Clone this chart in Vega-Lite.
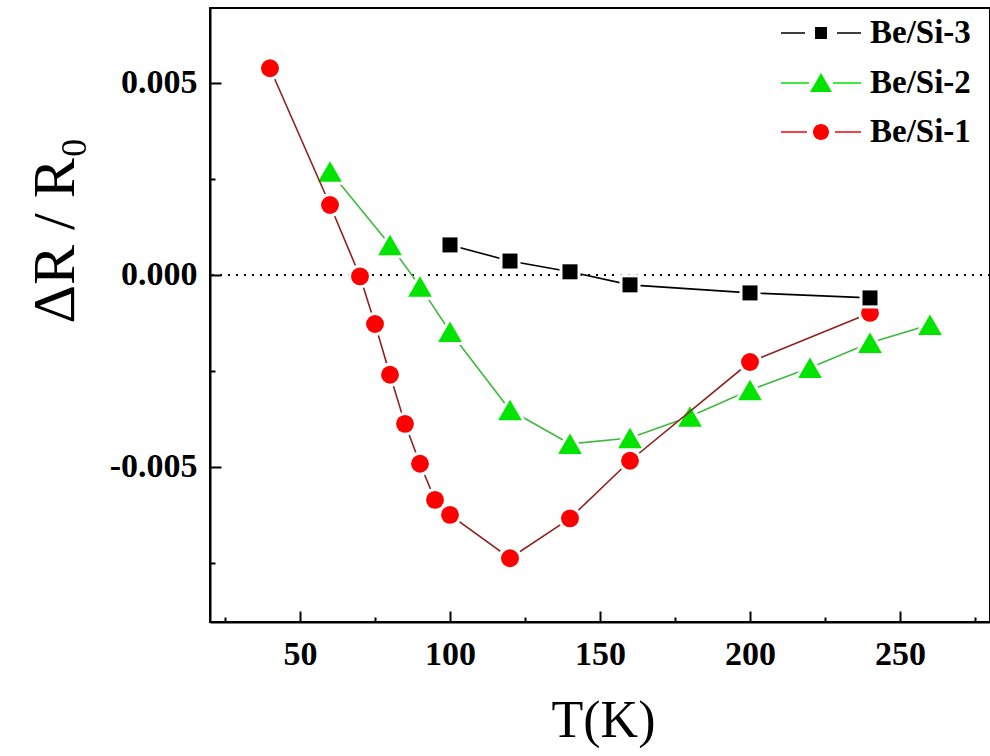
{
  "$schema": "https://vega.github.io/schema/vega-lite/v6.json",
  "autosize": {"type": "none"},
  "padding": {"left": 210, "top": 8, "right": 0, "bottom": 134},
  "width": 780,
  "height": 614,
  "background": "white",
  "view": {"stroke": "black", "strokeWidth": 2},
  "config": {
    "axis": {
      "labelFont": "Liberation Serif",
      "labelFontWeight": "bold",
      "labelFontSize": 34,
      "labelColor": "black",
      "titleFont": "Liberation Serif",
      "titleFontWeight": "normal",
      "titleColor": "black",
      "domainColor": "black",
      "domainWidth": 2,
      "tickColor": "black",
      "tickWidth": 2,
      "grid": false
    },
    "legend": {
      "labelFont": "Liberation Serif",
      "labelFontWeight": "bold",
      "labelFontSize": 33,
      "labelColor": "black",
      "title": null,
      "orient": "none",
      "padding": 0,
      "symbolSize": 1600,
      "symbolStrokeWidth": 0,
      "symbolOpacity": 1,
      "labelOffset": 29
    }
  },
  "data": {
    "values": [
      {"series": "Be/Si-1", "T": 40, "dR": 0.00538},
      {"series": "Be/Si-1", "T": 60, "dR": 0.00182},
      {"series": "Be/Si-1", "T": 70, "dR": -0.00004},
      {"series": "Be/Si-1", "T": 75, "dR": -0.00128},
      {"series": "Be/Si-1", "T": 80, "dR": -0.0026},
      {"series": "Be/Si-1", "T": 85, "dR": -0.00388},
      {"series": "Be/Si-1", "T": 90, "dR": -0.00492},
      {"series": "Be/Si-1", "T": 95, "dR": -0.00586},
      {"series": "Be/Si-1", "T": 100, "dR": -0.00625},
      {"series": "Be/Si-1", "T": 120, "dR": -0.00738},
      {"series": "Be/Si-1", "T": 140, "dR": -0.00634},
      {"series": "Be/Si-1", "T": 160, "dR": -0.00484},
      {"series": "Be/Si-1", "T": 200, "dR": -0.00227},
      {"series": "Be/Si-1", "T": 240, "dR": -0.00099},
      {"series": "Be/Si-2", "T": 60, "dR": 0.00269},
      {"series": "Be/Si-2", "T": 80, "dR": 0.00078},
      {"series": "Be/Si-2", "T": 90, "dR": -0.0003},
      {"series": "Be/Si-2", "T": 100, "dR": -0.00148},
      {"series": "Be/Si-2", "T": 120, "dR": -0.00352},
      {"series": "Be/Si-2", "T": 140, "dR": -0.0044},
      {"series": "Be/Si-2", "T": 160, "dR": -0.00425},
      {"series": "Be/Si-2", "T": 180, "dR": -0.00369},
      {"series": "Be/Si-2", "T": 200, "dR": -0.003},
      {"series": "Be/Si-2", "T": 220, "dR": -0.00242},
      {"series": "Be/Si-2", "T": 240, "dR": -0.00177},
      {"series": "Be/Si-2", "T": 260, "dR": -0.0013},
      {"series": "Be/Si-3", "T": 100, "dR": 0.00078},
      {"series": "Be/Si-3", "T": 120, "dR": 0.00036},
      {"series": "Be/Si-3", "T": 140, "dR": 0.00008},
      {"series": "Be/Si-3", "T": 160, "dR": -0.00026},
      {"series": "Be/Si-3", "T": 200, "dR": -0.00047},
      {"series": "Be/Si-3", "T": 240, "dR": -0.0006}
    ]
  },
  "encoding": {
    "x": {
      "field": "T", "type": "quantitative",
      "scale": {"domain": [20, 280], "nice": false, "zero": false},
      "axis": {
        "title": "T(K)",
        "titleFontSize": 52,
        "titleX": 393,
        "titleY": 98,
        "titleBaseline": "middle",
        "titleAlign": "center",
        "values": [25, 50, 75, 100, 125, 150, 175, 200, 225, 250, 275],
        "labelExpr": "datum.value % 50 === 0 ? datum.label : ''",
        "tickSize": {"condition": {"test": "datum.value % 50 === 0", "value": -11}, "value": -5},
        "labelPadding": 26,
        "labelFlush": false,
        "labelOverlap": false
      }
    },
    "y": {
      "field": "dR", "type": "quantitative",
      "scale": {"domain": [-0.00904, 0.00695], "nice": false, "zero": false},
      "axis": {
        "title": "ΔR / R₀",
        "titleFontSize": 60,
        "titleX": -155,
        "titleY": 222,
        "titleAngle": -90,
        "titleBaseline": "middle",
        "titleAlign": "center",
        "values": [-0.0075, -0.005, -0.0025, 0, 0.0025, 0.005],
        "labelExpr": "abs(round(datum.value * 400) % 2) == 0 ? replace(format(datum.value, '.3f'), '\u2212', '-') : ''",
        "tickSize": {"condition": {"test": "abs(round(datum.value * 400) % 2) == 0", "value": -11}, "value": -5},
        "labelPadding": 24,
        "labelFlush": false,
        "labelOverlap": false
      }
    }
  },
  "resolve": {"scale": {"fill": "independent"}, "legend": {"fill": "independent"}},
  "layer": [
    {
      "mark": {"type": "rule", "strokeDash": [2, 6], "strokeWidth": 1.5, "color": "black"},
      "encoding": {
        "x": null,
        "y": {"datum": 0, "type": "quantitative"}
      }
    },
    {
      "transform": [{"filter": "datum.series === 'Be/Si-2'"}],
      "layer": [
        {"mark": {"type": "line", "strokeWidth": 1.6, "color": "#3fb83f"}, "encoding": {}},
        {"mark": {"type": "point", "shape": "triangle-up", "size": 560, "filled": true, "fill": "white", "stroke": "white", "strokeWidth": 6, "opacity": 1}, "encoding": {}},
        {
          "mark": {"type": "point", "shape": "triangle-up", "size": 560, "filled": true, "strokeWidth": 0, "opacity": 1},
          "encoding": {
            "fill": {
              "field": "series", "type": "nominal",
              "scale": {"domain": ["Be/Si-2"], "range": ["#00e400"]},
              "legend": {
                "legendX": 591, "legendY": 55,
                "symbolType": "M-2,-0.04H-0.6V0.04H-2Z M0.6,-0.04H2V0.04H0.6Z M0,-0.5L0.55,0.45L-0.55,0.45Z"
              }
            }
          }
        }
      ]
    },
    {
      "transform": [{"filter": "datum.series === 'Be/Si-1'"}],
      "layer": [
        {"mark": {"type": "line", "strokeWidth": 1.6, "color": "#8e2222"}, "encoding": {}},
        {"mark": {"type": "point", "shape": "circle", "size": 320, "filled": true, "fill": "white", "stroke": "white", "strokeWidth": 6, "opacity": 1}, "encoding": {}},
        {
          "mark": {"type": "point", "shape": "circle", "size": 320, "filled": true, "strokeWidth": 0, "opacity": 1},
          "encoding": {
            "fill": {
              "field": "series", "type": "nominal",
              "scale": {"domain": ["Be/Si-1"], "range": ["#ff0000"]},
              "legend": {
                "legendX": 591, "legendY": 104,
                "symbolType": "M-2,-0.04H-0.7V0.04H-2Z M0.7,-0.04H2V0.04H0.7Z M0.4,0A0.4,0.4,0,1,1,-0.4,0A0.4,0.4,0,1,1,0.4,0Z"
              }
            }
          }
        }
      ]
    },
    {
      "transform": [{"filter": "datum.series === 'Be/Si-3'"}],
      "layer": [
        {"mark": {"type": "line", "strokeWidth": 1.6, "color": "#000000"}, "encoding": {}},
        {"mark": {"type": "point", "shape": "square", "size": 225, "filled": true, "fill": "white", "stroke": "white", "strokeWidth": 6, "opacity": 1}, "encoding": {}},
        {
          "mark": {"type": "point", "shape": "square", "size": 225, "filled": true, "strokeWidth": 0, "opacity": 1},
          "encoding": {
            "fill": {
              "field": "series", "type": "nominal",
              "scale": {"domain": ["Be/Si-3"], "range": ["#000000"]},
              "legend": {
                "legendX": 591, "legendY": 5,
                "symbolType": "M-2,-0.04H-0.8V0.04H-2Z M0.8,-0.04H2V0.04H0.8Z M-0.3,-0.3H0.3V0.3H-0.3Z"
              }
            }
          }
        }
      ]
    }
  ]
}
